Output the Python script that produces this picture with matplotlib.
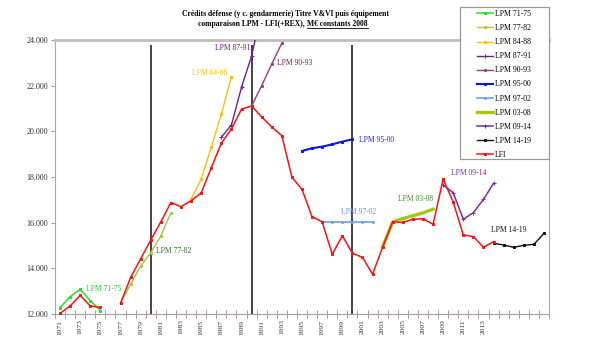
import matplotlib
matplotlib.use("Agg")
import matplotlib.pyplot as plt
import numpy as np
from matplotlib.lines import Line2D
from matplotlib.patches import Rectangle
from matplotlib.ticker import FixedLocator, FuncFormatter

plt.rcParams["font.family"] = ["Liberation Serif", "DejaVu Serif"]

# Donnees (M EUR constants 2008)
lfi_years = list(range(1971, 2015))
lfi = [12030, 12350, 12820, 12350, 12290, np.nan, 12470, 13600, 14420, 15240,
       16040, 16880, 16700, 16960, 17300, 18400, 19480, 20100, 20970, 21110,
       20630, 20190, 19810, 17990, 17460, 16260, 16040, 14610, 15430, 14660,
       14480, 13740, 14930, 16040, 16010, 16150, 16170, 15930, 17910, 16900,
       15460, 15390, 14920, 15170]

lpm_71_75_years = [1971, 1972, 1973, 1974, 1975]
lpm_71_75 = [12280, 12760, 13080, 12580, 12150]
lpm_77_82_years = [1977, 1978, 1979, 1980, 1981, 1982]
lpm_77_82 = [12470, 13310, 14100, 14690, 15420, 16440]
lpm_84_88_years = [1984, 1985, 1986, 1987, 1988]
lpm_84_88 = [17050, 17900, 19300, 20750, 22400]
lpm_87_91_years = [1987, 1988, 1989, 1990, 1991]
lpm_87_91 = [19740, 20280, 21930, 23300, 25300]
lpm_90_93_years = [1990, 1991, 1992, 1993]
lpm_90_93 = [21110, 22000, 22950, 23860]
lpm_95_00_years = [1995, 1996, 1997, 1998, 1999, 2000]
lpm_95_00 = [19140, 19260, 19330, 19430, 19550, 19650]
lpm_97_02_years = [1997, 1998, 1999, 2000, 2001, 2002]
lpm_97_02 = [16020, 16020, 16020, 16020, 16020, 16020]
lpm_03_08_years = [2003, 2004, 2005, 2006, 2007, 2008]
lpm_03_08 = [14950, 16040, 16180, 16300, 16430, 16590]
lpm_09_14_years = [2009, 2010, 2011, 2012, 2013, 2014]
lpm_09_14 = [17650, 17310, 16150, 16440, 17020, 17720]
lpm_14_19_years = [2014, 2015, 2016, 2017, 2018, 2019]
lpm_14_19 = [15100, 15020, 14920, 15010, 15050, 15530]

split_years = [1980, 1990, 2000]
label_years = list(range(1971, 2014, 2))
y_ticks = [12000, 14000, 16000, 18000, 20000, 22000, 24000]

fig = plt.figure(figsize=(5.97, 3.6), dpi=100)
ax = fig.add_axes([55 / 597, 1 - 314 / 360, 494 / 597, 274 / 360])

# (libelle, annees, valeurs, couleur, epaisseur, marqueur, taille)
series = [
    ("LPM 71-75", lpm_71_75_years, lpm_71_75, "#22e022", 1.1, "s", 1.6),
    ("LPM 77-82", lpm_77_82_years, lpm_77_82, "#a8c83a", 1.0, "s", 1.4),
    ("LPM 84-88", lpm_84_88_years, lpm_84_88, "#ffc000", 1.0, "s", 1.6),
    ("LPM 87-91", lpm_87_91_years, lpm_87_91, "#66209a", 1.0, "+", 2.4),
    ("LPM 90-93", lpm_90_93_years, lpm_90_93, "#9b3a78", 1.0, "s", 1.3),
    ("LPM 95-00", lpm_95_00_years, lpm_95_00, "#0a14f0", 1.5, "s", 1.8),
    ("LPM 97-02", lpm_97_02_years, lpm_97_02, "#6b9cff", 1.2, "s", 1.2),
    ("LPM 03-08", lpm_03_08_years, lpm_03_08, "#a2c814", 2.4, None, 0),
    ("LPM 09-14", lpm_09_14_years, lpm_09_14, "#7a2aa6", 1.1, "+", 2.4),
    ("LPM 14-19", lpm_14_19_years, lpm_14_19, "#111111", 1.0, "s", 1.6),
    ("LFI", lfi_years, lfi, "#ff1010", 1.1, "s", 1.8),
]

handles = []
for label, yrs, vals, color, lw, mk, ms in series:
    z = 4 if label == "LFI" else 3
    (h,) = ax.plot(yrs, vals, color=color, lw=lw, marker=mk, ms=ms,
                   markeredgewidth=0.7, zorder=z, label=label)
    handles.append(h)

ax.vlines(split_years, 12000, 23800, color="#222222", lw=1.2, zorder=2)

# libelles sur les courbes
notes = [
    ("LPM 71-75", 1973.6, 13080, "#22d022", "left"),
    ("LPM 77-82", 1980.5, 14770, "#2f6a25", "left"),
    ("LPM 84-88", 1984.05, 22540, "#ffc000", "left"),
    ("LPM 87-91", 1989.85, 23640, "#5a1a86", "right"),
    ("LPM 90-93", 1992.5, 22980, "#7a1a30", "left"),
    ("LPM 95-00", 2000.7, 19620, "#1a2aee", "left"),
    ("LPM 97-02", 1998.85, 16480, "#5f8fee", "left"),
    ("LPM 03-08", 2004.56, 17020, "#3a8a2a", "left"),
    ("LPM 09-14", 2009.8, 18160, "#7a2aa6", "left"),
    ("LPM 14-19", 2013.76, 15680, "#111111", "left"),
]
for txt, x, y, c, ha in notes:
    ax.text(x, y, txt, color=c, fontsize=5.5, ha=ha, va="center", zorder=6)

ax.set_xlim(1970.5, 2019.5)
ax.set_ylim(12000, 24000)

ax.xaxis.set_major_locator(FixedLocator(label_years))
ax.xaxis.set_minor_locator(FixedLocator(np.arange(1970.5, 2020, 1.0)))
ax.set_xticklabels([str(y) for y in label_years], rotation=90, fontsize=5.4,
                   color="#333333")
ax.tick_params(axis="x", which="major", length=0, pad=4)
ax.tick_params(axis="x", which="minor", direction="inout", length=6,
               width=0.7, color="#a39aa0")

ax.set_yticks(y_ticks)
ax.yaxis.set_major_formatter(FuncFormatter(lambda v, p: f"{v:,.0f}".replace(",", ".")))
ax.tick_params(axis="y", length=3, width=0.7, color="#999999", labelsize=5.8,
               labelcolor="#333333", pad=2)

for side in ["left", "right"]:
    ax.spines[side].set_color("#a8a8a8")
    ax.spines[side].set_linewidth(0.8)
ax.spines["top"].set_color("#bcbcbc")
ax.spines["top"].set_linewidth(2.0)
ax.spines["bottom"].set_color("#b09aa2")
ax.spines["bottom"].set_linewidth(0.8)

# titre
fig.text(285 / 597, 1 - 14 / 360, "Crédits défense (y c. gendarmerie) Titre V&VI puis équipement",
         ha="center", va="center", fontsize=5.5, fontweight="bold")
t_left = fig.text(307 / 597, 1 - 23.5 / 360, "comparaison LPM - LFI(+REX), ",
                  ha="right", va="center", fontsize=5.5, fontweight="bold")
t_right = fig.text(307 / 597, 1 - 23.5 / 360, "M€ constants 2008",
                   ha="left", va="center", fontsize=5.5, fontweight="bold")

# cadre de legende
fig.patches.append(Rectangle((460 / 597, 1 - 159 / 360), 89 / 597, 152 / 360,
                             transform=fig.transFigure, facecolor="white",
                             edgecolor="#9a9a9a", lw=0.9, zorder=1))
fig.legend(handles=handles, loc="upper left", bbox_to_anchor=(474 / 597, 1 - 7 / 360),
           frameon=False, fontsize=5.6, handlelength=2.1, handletextpad=0.2,
           labelspacing=0.78, borderpad=0.4, borderaxespad=0)

fig.canvas.draw()
bb = t_right.get_window_extent()
inv = fig.transFigure.inverted()
(x0, y0), (x1, _) = inv.transform([(bb.x0, bb.y0), (bb.x1, bb.y0)])
fig.add_artist(Line2D([x0, x1], [y0 - 0.002, y0 - 0.002], color="black", lw=0.6,
                      transform=fig.transFigure))

fig.savefig("out.png", dpi=100)
